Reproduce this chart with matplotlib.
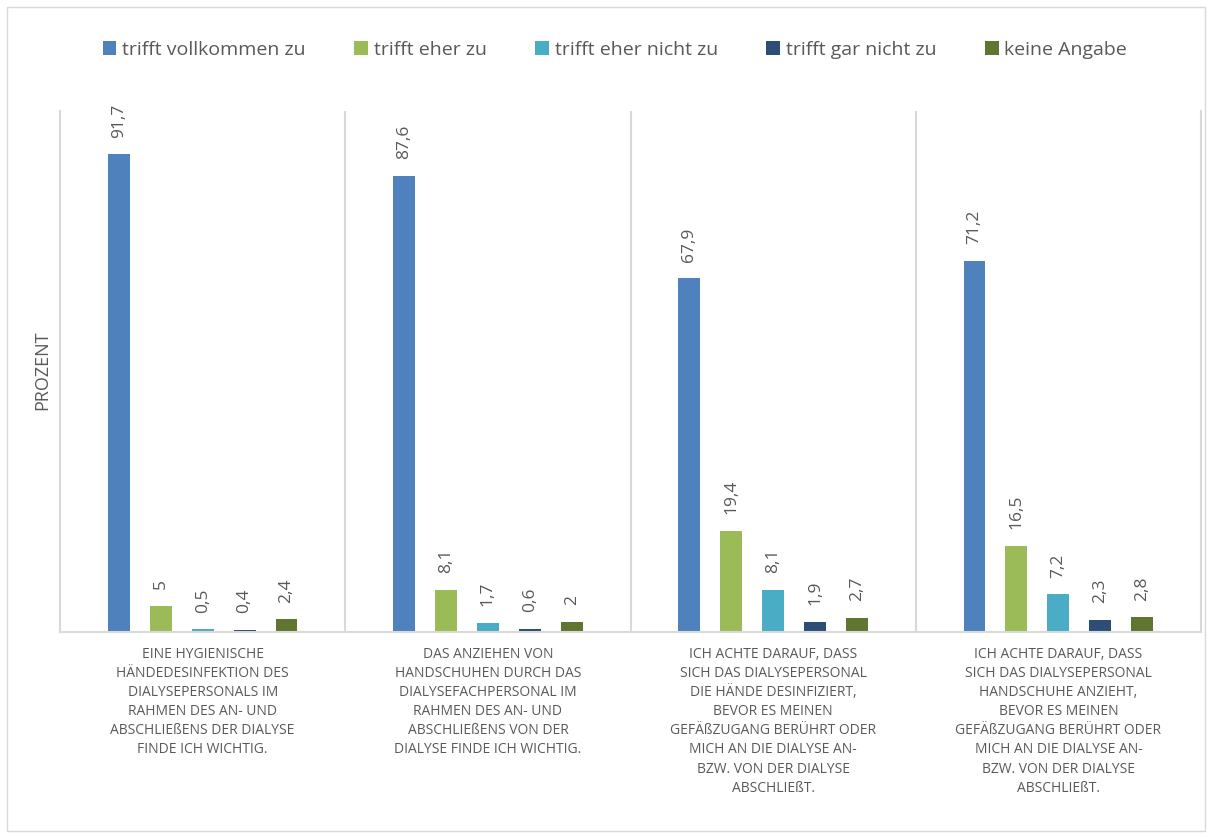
import numpy as np
import matplotlib.pyplot as plt
from matplotlib.patches import Rectangle

plt.rcParams['font.family'] = ['Open Sans', 'DejaVu Sans']

# Data
categories = [
    "EINE HYGIENISCHE\nHÄNDEDESINFEKTION DES\nDIALYSEPERSONALS IM\nRAHMEN DES AN- UND\nABSCHLIEßENS DER DIALYSE\nFINDE ICH WICHTIG.",
    "DAS ANZIEHEN VON\nHANDSCHUHEN DURCH DAS\nDIALYSEFACHPERSONAL IM\nRAHMEN DES AN- UND\nABSCHLIEßENS VON DER\nDIALYSE FINDE ICH WICHTIG.",
    "ICH ACHTE DARAUF, DASS\nSICH DAS DIALYSEPERSONAL\nDIE HÄNDE DESINFIZIERT,\nBEVOR ES MEINEN\nGEFÄßZUGANG BERÜHRT ODER\nMICH AN DIE DIALYSE AN-\nBZW. VON DER DIALYSE\nABSCHLIEßT.",
    "ICH ACHTE DARAUF, DASS\nSICH DAS DIALYSEPERSONAL\nHANDSCHUHE ANZIEHT,\nBEVOR ES MEINEN\nGEFÄßZUGANG BERÜHRT ODER\nMICH AN DIE DIALYSE AN-\nBZW. VON DER DIALYSE\nABSCHLIEßT.",
]
series_names = ["trifft vollkommen zu", "trifft eher zu", "trifft eher nicht zu",
                "trifft gar nicht zu", "keine Angabe"]
vollkommen = [91.7, 87.6, 67.9, 71.2]
eher = [5, 8.1, 19.4, 16.5]
eher_nicht = [0.5, 1.7, 8.1, 7.2]
gar_nicht = [0.4, 0.6, 1.9, 2.3]
keine = [2.4, 2, 2.7, 2.8]
series = [vollkommen, eher, eher_nicht, gar_nicht, keine]
colors = ["#4F81BD", "#9BBB59", "#4BACC6", "#2C4D75", "#5F7530"]

grid_col = "#D9D9D9"
text_col = "#595959"

fig = plt.figure(figsize=(12.12, 8.38), dpi=100)
ax = fig.add_axes([60/1212, 1-632/838, (1201-60)/1212, (632-111)/838])

x = np.arange(len(categories))
step = 0.147
width = 0.077
for j, (vals, col, name) in enumerate(zip(series, colors, series_names)):
    pos = x + (j - 2) * step
    bars = ax.bar(pos, vals, width, color=col, label=name)
    for b, v in zip(bars, vals):
        lab = ("%g" % v).replace(".", ",")
        ax.annotate(lab, (b.get_x() + b.get_width()/2, v), xytext=(0, 12),
                    textcoords="offset points", rotation=90, ha="center",
                    va="bottom", fontsize=12.5, color=text_col)

ax.set_xlim(-0.5, 3.5)
ax.set_ylim(0, 100)
ax.set_yticks([])
ax.set_xticks([])
for sep in [0.5, 1.5, 2.5]:
    ax.axvline(sep, color=grid_col, lw=1.5)
for side in ["left", "right", "bottom"]:
    ax.spines[side].set_color(grid_col)
    ax.spines[side].set_linewidth(1.5)
ax.spines["top"].set_visible(False)

for i, cat in enumerate(categories):
    ax.text(i, -2.8, cat, ha="center", va="top", fontsize=10, color=text_col,
            linespacing=1.38, transform=ax.transData, clip_on=False)

fig.text(42/1212, 1-370/838, "PROZENT", rotation=90, ha="center", va="center",
         fontsize=13, color=text_col)

handles, labels = ax.get_legend_handles_labels()
fig.legend(handles, labels, loc="center", bbox_to_anchor=(615/1212, 1-50/838),
           ncol=5, frameon=False, fontsize=14, labelcolor=text_col,
           handlelength=0.7, handleheight=0.7, handletextpad=0.3,
           columnspacing=2.5)

fig.patches.append(Rectangle((7/1212, 7/838), 1198/1212, 824/838,
                             transform=fig.transFigure, fill=False,
                             edgecolor=grid_col, lw=1))

fig.savefig("out.png", dpi=100)
